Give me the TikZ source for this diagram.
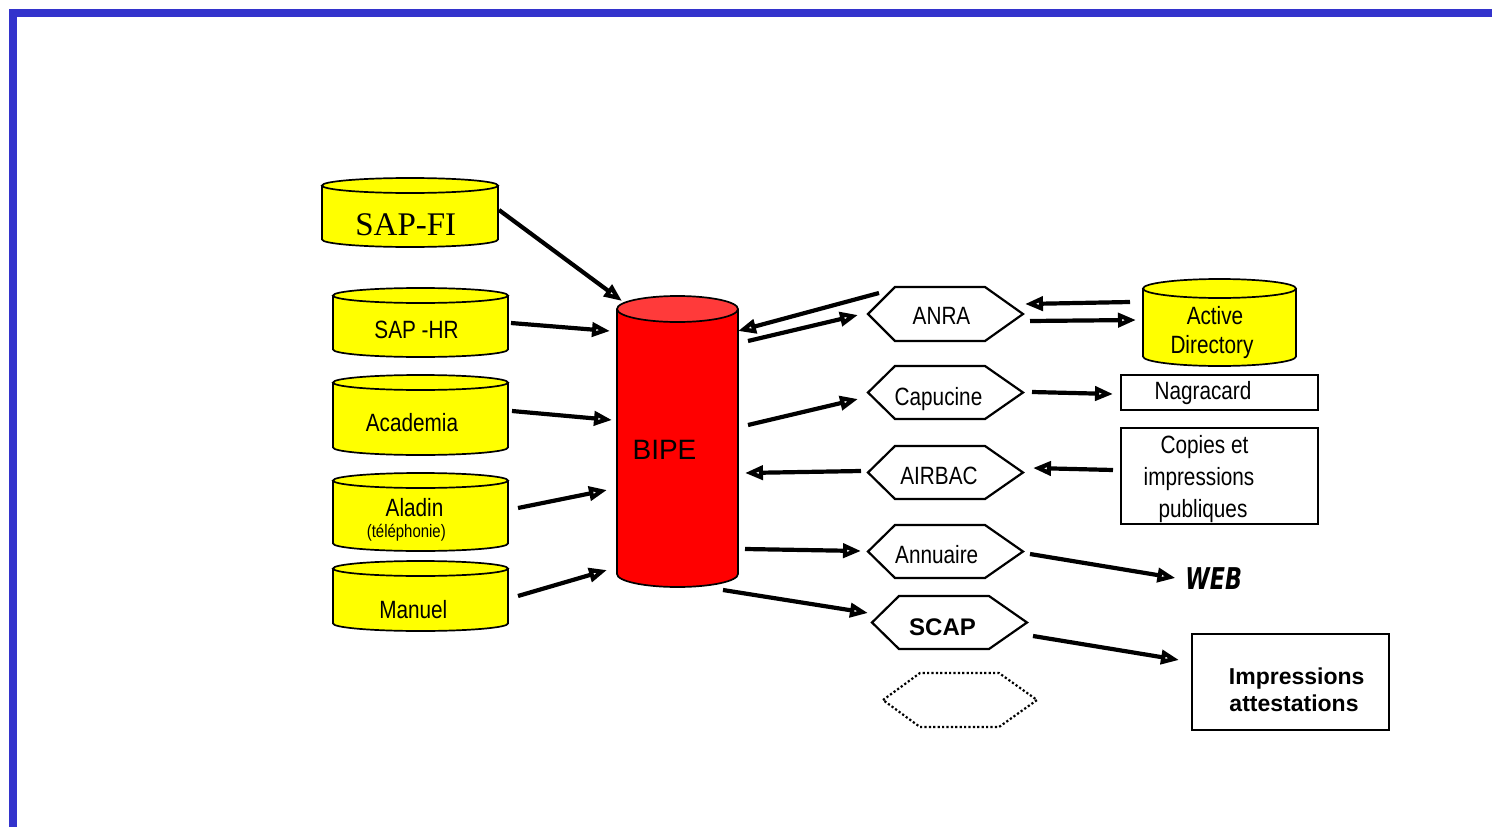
\documentclass[tikz,border=0pt]{standalone}
\usepackage{fontspec}
\setmainfont{Liberation Sans}
\newfontfamily\narrowf[FakeStretch=0.83]{Liberation Sans}
\newfontfamily\seriff{Liberation Serif}
\newfontfamily\webf[FakeStretch=0.74]{DejaVu Sans}
\usetikzlibrary{arrows.meta,calc}
\definecolor{framecol}{RGB}{51,51,204}
\definecolor{ylw}{RGB}{255,255,0}
\definecolor{redbody}{RGB}{255,0,0}
\definecolor{redtop}{RGB}{255,58,58}
\tikzset{
  box0/.style={inner sep=0pt, outer sep=0pt, draw=none},
  cylline/.style={line width=1.7pt, draw=black},
  hexline/.style={line width=2.2pt, line join=miter, draw=black},
  hexdot/.style={line width=2.2pt, dash pattern=on 2.2pt off 2.2pt, draw=black},
  rectbox/.style={draw, line width=1.7pt, inner sep=0pt, outer sep=0pt},
  arr/.style={line width=4.2pt, -{Triangle[open, length=18pt, width=14pt]}},
  lbl/.style={inner sep=0pt, outer sep=0pt, font=\narrowf\fontsize{25}{30}\selectfont, text height=17.9pt, text depth=0pt},
  lblsmall/.style={inner sep=0pt, outer sep=0pt, font=\narrowf\fontsize{18}{22}\selectfont, text height=12.9pt, text depth=0pt},
  lblbold/.style={inner sep=0pt, outer sep=0pt, font=\bfseries\fontsize{24}{28}\selectfont, text height=17.2pt, text depth=0pt},
  lblimp/.style={inner sep=0pt, outer sep=0pt, font=\bfseries\fontsize{23}{28}\selectfont, text height=16.5pt, text depth=0pt},
  lblbipe/.style={inner sep=0pt, outer sep=0pt, font=\fontsize{28}{32}\selectfont, text height=20pt, text depth=0pt},
  lblserif/.style={inner sep=0pt, outer sep=0pt, font=\seriff\fontsize{33}{38}\selectfont, text height=21.8pt, text depth=0pt},
  lblweb/.style={inner sep=0pt, outer sep=0pt, font=\webf\bfseries\itshape\fontsize{30}{34}\selectfont, text height=21.9pt, text depth=0pt},
}
% cylinder: name, x1, x2, ytop(center of top ellipse), ybottom(center of bottom ellipse), ry, body colour, top colour
\newcommand\dbcyl[8]{%
  \pgfmathsetmacro\cylcx{(#2+#3)/2}%
  \pgfmathsetmacro\cylrx{(#3-#2)/2}%
  \node[box0, minimum width={#3-#2}, minimum height={#5-#4}] (#1) at (\cylcx,{(#4+#5)/2}) {};
  \fill[#7] (#2,#4) -- (#2,#5) .. controls (#2,{#5+0.5523*#6}) and ({\cylcx-0.5523*\cylrx},{#5+#6}) .. (\cylcx,{#5+#6})
     .. controls ({\cylcx+0.5523*\cylrx},{#5+#6}) and (#3,{#5+0.5523*#6}) .. (#3,#5) -- (#3,#4) -- cycle;
  \draw[cylline] (#2,#4) -- (#2,#5) .. controls (#2,{#5+0.5523*#6}) and ({\cylcx-0.5523*\cylrx},{#5+#6}) .. (\cylcx,{#5+#6})
     .. controls ({\cylcx+0.5523*\cylrx},{#5+#6}) and (#3,{#5+0.5523*#6}) .. (#3,#5) -- (#3,#4);
  \filldraw[cylline, fill=#8] (\cylcx,#4) ellipse [x radius=\cylrx, y radius=#6];
}
% hexagon: name, x1, x2, ytop, ybottom, left slant, right slant, style
\newcommand\hexnode[8]{%
  \node[box0, minimum width={#3-#2}, minimum height={#5-#4}] (#1) at ({(#2+#3)/2},{(#4+#5)/2}) {};
  \draw[#8] (#1.west) -- ([xshift=#6pt]#1.north west) -- ([xshift=-#7pt]#1.north east) -- (#1.east)
     -- ([xshift=-#7pt]#1.south east) -- ([xshift=#6pt]#1.south west) -- cycle;
}
\begin{document}
\begin{tikzpicture}[x=1pt,y=-1pt]
\useasboundingbox (0,0) rectangle (1492,827);
\fill[white] (0,0) rectangle (1492,827);
\draw[line width=8pt, framecol] (12.5,13.3) rectangle (1512,830.5);

% cylinders
\dbcyl{sapfi}{322}{498}{185.5}{239.5}{7.5}{ylw}{ylw}
\dbcyl{saphr}{333}{508}{295.5}{349.5}{7.5}{ylw}{ylw}
\dbcyl{academia}{333}{508}{382.5}{447.5}{7.5}{ylw}{ylw}
\dbcyl{aladin}{333}{508}{480.5}{543.5}{7.5}{ylw}{ylw}
\dbcyl{manuel}{333}{508}{568.5}{623.5}{7.5}{ylw}{ylw}
\dbcyl{bipe}{617}{738}{309}{574}{13}{redbody}{redtop}
\dbcyl{active}{1143}{1296}{288.5}{356.5}{9.5}{ylw}{ylw}

% hexagons
\hexnode{anra}{868}{1023}{287}{341}{27}{38}{hexline}
\hexnode{capucine}{868}{1023}{366}{419}{27}{38}{hexline}
\hexnode{airbac}{868}{1023}{446}{499}{27}{38}{hexline}
\hexnode{annuaire}{868}{1023}{525}{578}{27}{38}{hexline}
\hexnode{scap}{872}{1027}{596}{649}{27}{38}{hexline}
\hexnode{empty}{883}{1037}{673}{727}{37}{38}{hexdot}

% rectangles
\node[rectbox, minimum width=197, minimum height=35] (nagra) at (1219.5,392.5) {};
\node[rectbox, minimum width=197, minimum height=96] (copies) at (1219.5,476) {};
\node[rectbox, minimum width=197, minimum height=96] (impr) at (1290.5,682) {};

% labels
\node[lblserif] (sapfi-t) at (405.8,224.2) {SAP-FI};
\node[lbl] (saphr-t) at (416.5,329.2) {SAP -HR};
\node[lbl] (academia-t) at (412,422.3) {Academia};
\node[lbl] (aladin-t) at (414.5,507.3) {Aladin};
\node[lblsmall] (aladin-t2) at (406.3,531.5) {(téléphonie)};
\node[lbl] (manuel-t) at (413.3,609.7) {Manuel};
\node[lblbipe] (bipe-t) at (664.5,449) {BIPE};
\node[lbl] (anra-t) at (941.5,315.5) {ANRA};
\node[lbl] (capucine-t) at (938.5,396.5) {Capucine};
\node[lbl] (airbac-t) at (939,476) {AIRBAC};
\node[lbl] (annuaire-t) at (936.7,554.3) {Annuaire};
\node[lblbold] (scap-t) at (942.5,627) {SCAP};
\node[lbl] (active-t) at (1215,315.8) {Active};
\node[lbl] (active-t2) at (1212,344.2) {Directory};
\node[lbl] (nagra-t) at (1203,391) {Nagracard};
\node[lbl] (copies-t) at (1204.5,444.7) {Copies et};
\node[lbl] (copies-t2) at (1199,476.5) {impressions};
\node[lbl] (copies-t3) at (1203,508.5) {publiques};
\node[lblimp] (impr-t) at (1296.7,675.8) {Impressions};
\node[lblimp] (impr-t2) at (1294,703) {attestations};
\node[lblweb] (web) at (1213.7,579) {WEB};

% connectors
\draw[arr] ($(sapfi.east)+(1,-2.5)$) -- ($(bipe.north west)+(5,-8)$);
\draw[arr] ($(saphr.east)+(3,0.5)$) -- ($(bipe.west)+(-7,-110.5)$);
\draw[arr] ($(academia.east)+(4,-4)$) -- ($(bipe.west)+(-5,-21.5)$);
\draw[arr] ($(aladin.east)+(10,-4)$) -- ($(bipe.west)+(-10,48.5)$);
\draw[arr] ($(manuel.east)+(10,0)$) -- ($(bipe.west)+(-10,128.5)$);
\draw[arr] ($(anra.west)+(11,-21)$) -- ($(bipe.east)+(0,-110.5)$);
\draw[arr] ($(bipe.east)+(10,-100.5)$) -- ($(anra.west)+(-10,1)$);
\draw[arr] ($(bipe.east)+(10,-16.5)$) -- ($(capucine.west)+(-10,6.5)$);
\draw[arr] ($(airbac.west)+(-7,-1.5)$) -- ($(bipe.east)+(7,31.5)$);
\draw[arr] ($(bipe.east)+(7,107.5)$) -- ($(annuaire.west)+(-7,-0.5)$);
\draw[arr] ($(bipe.south east)+(-15,16)$) -- ($(scap.west)+(-4,-9.5)$);
\draw[arr] ($(active.west)+(-13,-20.5)$) -- ($(anra.east)+(2,-10)$);
\draw[arr] ($(anra.east)+(7,7)$) -- ($(active.west)+(-7,-2.5)$);
\draw[arr] ($(capucine.east)+(9,-0.5)$) -- ($(nagra.west)+(-8,1.5)$);
\draw[arr] ($(copies.west)+(-8,-6)$) -- ($(airbac.east)+(10,-4.5)$);
\draw[arr] ($(annuaire.east)+(7,2.5)$) -- ($(web.west)+(-10,-1)$);
\draw[arr] ($(scap.east)+(6,13.5)$) -- ($(impr.west)+(-13,-22)$);
\end{tikzpicture}
\end{document}
